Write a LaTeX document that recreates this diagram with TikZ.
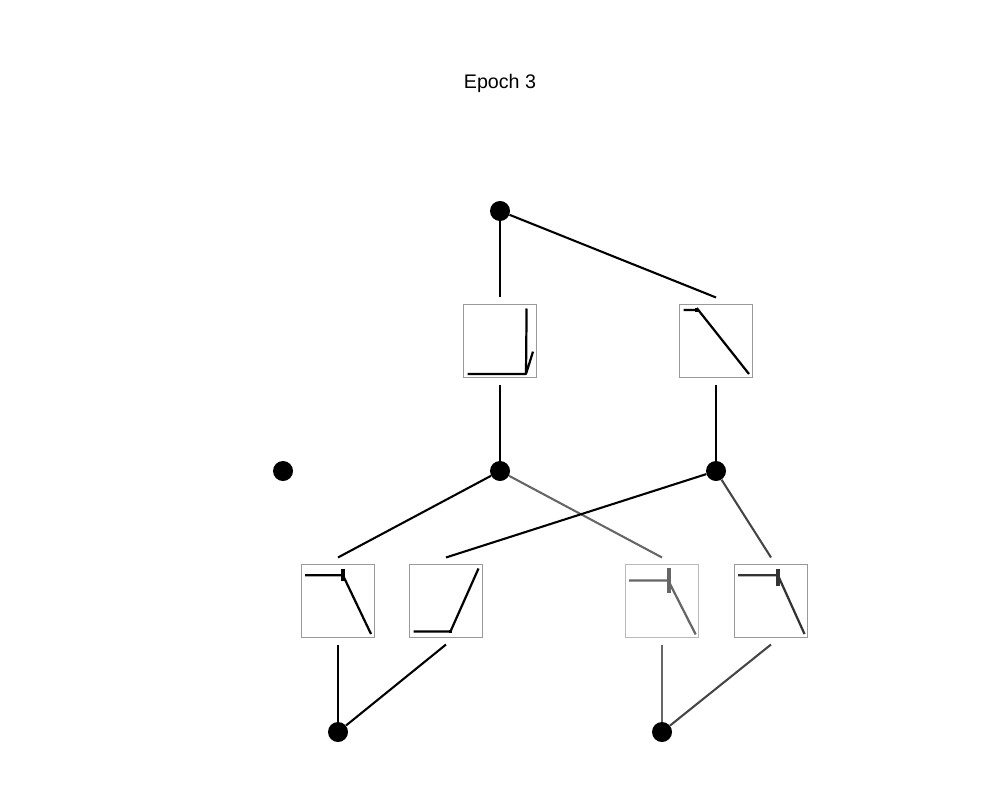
\documentclass[tikz,border=0pt]{standalone}
\usepackage{fontspec}
\setmainfont{Liberation Sans}
\begin{document}
\begin{tikzpicture}[x=0.01in,y=-0.01in,
  neuron/.style={circle,fill=black,minimum size=0.2in,inner sep=0pt},
  act/.style={draw=gray!80,line width=0.72pt,minimum size=0.73in,inner sep=0pt,outer sep=0.07in},
  wire/.style={line width=1.5pt},
  curve/.style={line width=1.6pt,line join=round},
  tick/.style={line width=2.4pt}]
  \useasboundingbox (0,0) rectangle (1000,800);
  \node (title) at (500,83) {\fontsize{14.2pt}{17pt}\selectfont Epoch 3};
  % neurons
  \node[neuron] (out) at (500,211) {};
  \node[neuron] (h0) at (283,471) {};
  \node[neuron] (h1) at (500,471) {};
  \node[neuron] (h2) at (716,471) {};
  \node[neuron] (in1) at (338,732) {};
  \node[neuron] (in2) at (662,732) {};
  % activation boxes
  \node[act] (a11) at (500,341) {};
  \node[act] (a21) at (716,341) {};
  \node[act] (b11) at (338,601) {};
  \node[act] (b21) at (446,601) {};
  \node[act,draw=gray!55] (b12) at (662,601) {};
  \node[act] (b22) at (771,601) {};
  % wires
  \path[wire]
    (out) edge (a11.north)
    (out) edge (a21.north)
    (a11.south) edge (h1)
    (a21.south) edge (h2)
    (h1) edge (b11.north)
    (h1) edge[draw=black!60] (b12.north)
    (h2) edge (b21.north)
    (h2) edge[draw=black!73] (b22.north)
    (b11.south) edge (in1)
    (b21.south) edge (in1)
    (b12.south) edge[draw=black!60] (in2)
    (b22.south) edge[draw=black!73] (in2);
  % curves inside boxes
  \begin{scope}[shift={(a11.center)}]
    \draw[curve] (-32.5,33) -- (26,33) -- (26.6,-32.5) (26,33) -- (33,10.6);
  \end{scope}
  \begin{scope}[shift={(a21.center)}]
    \draw[curve] (-32.5,-31) -- (-19.3,-31) (-19.3,-33) -- (33,33);
    \draw[tick] (-19.3,-33) -- (-19.3,-29);
  \end{scope}
  \begin{scope}[shift={(b11.center)}]
    \draw[curve] (-33,-25.8) -- (4.9,-25.8) (4.9,-25.8) -- (33,33);
    \draw[tick] (4.9,-32.5) -- (4.9,-19.7);
  \end{scope}
  \begin{scope}[shift={(b21.center)}]
    \draw[curve] (-32.5,30.4) -- (4.5,30.4) -- (32.5,-32.5);
    \draw[tick] (4.5,28.5) -- (4.5,32);
  \end{scope}
  \begin{scope}[shift={(b12.center)}]
    \draw[curve,black!60] (-33,-20.4) -- (7,-20.4) (7,-19) -- (33.7,33.5);
    \draw[tick,black!60] (7,-33) -- (7,-8);
  \end{scope}
  \begin{scope}[shift={(b22.center)}]
    \draw[curve,black!80] (-33,-25.8) -- (6.9,-25.8) (6.9,-25.8) -- (33.5,33);
    \draw[tick,black!80] (6.9,-32.5) -- (6.9,-14.6);
  \end{scope}
\end{tikzpicture}
\end{document}
